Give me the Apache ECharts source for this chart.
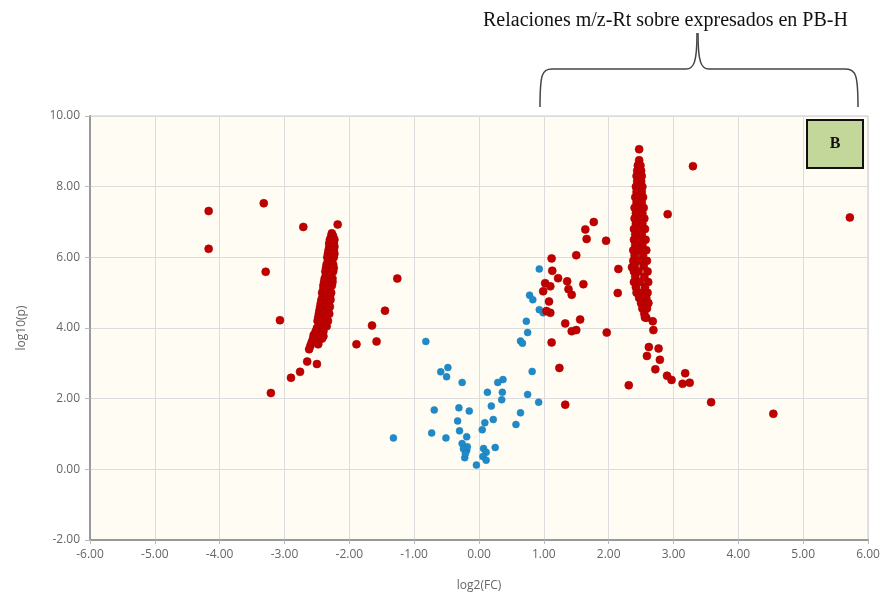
<!DOCTYPE html>
<html>
<head>
<meta charset="utf-8">
<script src="https://cdn.jsdelivr.net/npm/echarts@6/dist/echarts.min.js"></script>
<style>
html,body{margin:0;padding:0;background:#ffffff;}
#chart{width:887px;height:597px;}
</style>
</head>
<body>
<div id="chart"></div>
<script>
// x tick values (log2 FC) and y tick values (log10 p)
const xTicks = [-6,-5,-4,-3,-2,-1,0,1,2,3,4,5,6];
const yTicks = [-2,0,2,4,6,8,10];

// Significant features (red): isolated points on the left
const redLeft = [
  [-4.17,7.31],[-4.17,6.24],[-3.32,7.53],[-3.29,5.59],[-3.07,4.22],[-3.21,2.16],
  [-2.71,6.86],[-2.18,6.93],[-2.90,2.59],[-2.76,2.76],[-2.65,3.05],[-2.50,2.98],
  [-2.48,3.54],[-2.40,3.77],[-2.35,4.05],[-1.89,3.54],[-1.65,4.07],[-1.58,3.62],
  [-1.45,4.49],[-1.26,5.40]
];
// Dense left streak
const redLeftStreak = [
  [-2.27,6.68],[-2.28,6.60],[-2.25,6.60],[-2.30,6.50],[-2.26,6.50],[-2.23,6.50],
  [-2.31,6.40],[-2.27,6.40],[-2.24,6.40],[-2.31,6.30],[-2.26,6.30],[-2.23,6.30],
  [-2.32,6.20],[-2.28,6.20],[-2.24,6.20],[-2.33,6.10],[-2.27,6.10],[-2.23,6.10],
  [-2.34,6.00],[-2.29,6.00],[-2.24,6.00],[-2.33,5.90],[-2.27,5.90],
  [-2.35,5.80],[-2.30,5.80],[-2.25,5.80],[-2.36,5.70],[-2.28,5.70],[-2.24,5.70],
  [-2.37,5.60],[-2.31,5.60],[-2.25,5.60],[-2.36,5.50],[-2.29,5.50],
  [-2.38,5.40],[-2.32,5.40],[-2.26,5.40],[-2.39,5.30],[-2.30,5.30],[-2.26,5.30],
  [-2.40,5.20],[-2.34,5.20],[-2.27,5.20],[-2.40,5.10],[-2.31,5.10],
  [-2.42,5.00],[-2.35,5.00],[-2.28,5.00],[-2.41,4.90],[-2.30,4.90],
  [-2.43,4.80],[-2.36,4.80],[-2.29,4.80],[-2.44,4.70],[-2.32,4.70],
  [-2.45,4.60],[-2.38,4.60],[-2.30,4.60],[-2.46,4.50],[-2.33,4.50],
  [-2.47,4.40],[-2.40,4.40],[-2.31,4.40],[-2.48,4.30],[-2.36,4.30],
  [-2.49,4.20],[-2.42,4.20],[-2.33,4.20],[-2.46,4.10],[-2.37,4.10],
  [-2.50,4.00],[-2.42,4.00],[-2.52,3.90],[-2.40,3.90],[-2.55,3.80],[-2.45,3.80],
  [-2.56,3.70],[-2.42,3.70],[-2.58,3.60],[-2.48,3.60],[-2.60,3.50],[-2.62,3.40]
];
// Isolated red points on the right
const redRight = [
  [1.12,5.97],[1.50,6.06],[1.13,5.62],[1.22,5.41],[1.36,5.32],[1.02,5.27],
  [1.10,5.18],[0.99,5.04],[1.38,5.10],[1.43,4.94],[1.61,5.24],[1.08,4.75],
  [1.10,4.43],[1.04,4.48],[1.33,4.13],[1.56,4.24],[1.43,3.91],[1.50,3.94],
  [1.97,3.87],[1.12,3.59],[1.24,2.87],[1.33,1.83],[1.77,7.00],[1.64,6.79],
  [1.66,6.52],[1.96,6.47],[2.15,5.67],[2.14,4.99],[2.36,5.72],[3.30,8.58],
  [2.91,7.22],[2.61,4.71],[2.58,4.29],[2.68,4.19],[2.69,3.94],[2.62,3.46],
  [2.77,3.42],[2.59,3.21],[2.79,3.10],[2.72,2.83],[2.90,2.65],[2.97,2.53],
  [3.18,2.72],[3.14,2.42],[3.25,2.45],[2.31,2.38],[3.58,1.90],[4.54,1.57],
  [5.72,7.13],[2.47,9.06]
];
// Dense right streak
const redRightStreak = [
  [2.47,8.75],[2.45,8.60],[2.49,8.60],[2.44,8.45],[2.50,8.45],
  [2.43,8.30],[2.47,8.30],[2.51,8.30],[2.44,8.15],[2.50,8.15],
  [2.42,8.00],[2.47,8.00],[2.52,8.00],[2.43,7.85],[2.51,7.85],
  [2.41,7.70],[2.46,7.70],[2.53,7.70],[2.43,7.55],[2.51,7.55],
  [2.40,7.40],[2.46,7.40],[2.54,7.40],[2.42,7.25],[2.52,7.25],
  [2.40,7.10],[2.47,7.10],[2.55,7.10],[2.42,6.95],[2.52,6.95],
  [2.39,6.80],[2.46,6.80],[2.56,6.80],[2.41,6.65],[2.51,6.65],
  [2.39,6.50],[2.45,6.50],[2.57,6.50],[2.41,6.35],[2.52,6.35],
  [2.38,6.20],[2.46,6.20],[2.58,6.20],[2.40,6.05],[2.53,6.05],
  [2.38,5.90],[2.47,5.90],[2.59,5.90],[2.40,5.75],[2.54,5.75],
  [2.39,5.60],[2.46,5.60],[2.60,5.60],[2.41,5.45],[2.55,5.45],
  [2.39,5.30],[2.48,5.30],[2.61,5.30],[2.42,5.15],[2.56,5.15],
  [2.43,5.00],[2.50,5.00],[2.60,5.00],[2.47,4.85],[2.58,4.85],
  [2.50,4.70],[2.61,4.70],[2.52,4.55],[2.59,4.55],[2.55,4.40],[2.56,4.30]
];
// Non-significant features (blue)
const bluePoints = [
  [0.93,5.67],[0.78,4.93],[0.83,4.80],[0.93,4.52],[0.99,4.43],[0.73,4.19],
  [0.75,3.87],[0.64,3.63],[0.67,3.57],[0.82,2.77],[0.29,2.46],[0.37,2.54],
  [0.13,2.18],[0.36,2.18],[0.35,1.97],[0.75,2.12],[0.92,1.90],[0.64,1.60],
  [0.57,1.27],[0.19,1.79],[0.22,1.41],[0.09,1.32],[0.05,1.12],[0.25,0.62],
  [0.07,0.59],[0.11,0.48],[0.06,0.36],[0.11,0.26],[-0.04,0.12],[-0.22,0.33],
  [-0.19,0.54],[-0.18,0.64],[-0.26,0.73],[-0.19,0.92],[-0.30,1.09],[-0.33,1.37],
  [-0.15,1.65],[-0.31,1.74],[-0.26,2.46],[-0.48,2.88],[-0.59,2.76],[-0.50,2.62],
  [-0.69,1.68],[-0.73,1.03],[-0.51,0.89],[-1.32,0.89],[-0.82,3.62],
  [-0.24,0.58],[-0.21,0.45]
];

const annotationText = 'Relaciones m/z-Rt sobre expresados en PB-H';
const panelLabel = 'B';

const redAll = redLeft.concat(redLeftStreak, redRight, redRightStreak);

const chart = echarts.init(document.getElementById('chart'), null, {renderer:'canvas'});
const axisFont = '"Open Sans", "DejaVu Sans", sans-serif';
const axisLabelStyle = {color:'#666', fontSize:12, fontFamily:axisFont};
const redStyle = {color:'#c00000', borderColor:'#a80000', borderWidth:0.6, opacity:1};
const blueStyle = {color:'#1f8ac8', borderColor:'#1c7db8', borderWidth:0.5, opacity:1};
const braceStyle = {stroke:'#444', lineWidth:1.5, fill:null};

chart.setOption({
  animation:false,
  backgroundColor:'#ffffff',
  grid:{left:90, right:19, top:116, bottom:54, show:true, backgroundColor:'#fffdf3', borderColor:'#c8c8c8', borderWidth:1},
  xAxis:{
    type:'value', min:xTicks[0], max:xTicks[xTicks.length-1], interval:1,
    name:'log2(FC)', nameLocation:'middle', nameGap:40,
    nameTextStyle:{color:'#666', fontSize:12, fontFamily:axisFont},
    axisLine:{show:true, onZero:false, lineStyle:{color:'#999', width:2}},
    axisTick:{show:true, length:4, lineStyle:{color:'#bbb'}},
    axisLabel:Object.assign({margin:9, formatter:v=>v.toFixed(2)}, axisLabelStyle),
    splitLine:{show:true, lineStyle:{color:'#dcdcdc', width:1}}
  },
  yAxis:{
    type:'value', min:yTicks[0], max:yTicks[yTicks.length-1], interval:2,
    name:'log10(p)', nameLocation:'middle', nameGap:62, nameRotate:90,
    nameTextStyle:{color:'#666', fontSize:12, fontFamily:axisFont},
    axisLine:{show:true, onZero:false, lineStyle:{color:'#999', width:2}},
    axisTick:{show:true, length:5, lineStyle:{color:'#bbb'}},
    axisLabel:Object.assign({margin:10, formatter:v=>v.toFixed(2)}, axisLabelStyle),
    splitLine:{show:true, lineStyle:{color:'#dcdcdc', width:1}}
  },
  series:[
    {type:'scatter', data:bluePoints, symbolSize:7, itemStyle:blueStyle, z:2},
    {type:'scatter', data:redAll, symbolSize:8, itemStyle:redStyle, z:3}
  ],
  graphic:[
    {type:'text', x:483, y:31, style:{text:annotationText, fill:'#111', font:'20px "Liberation Serif", "Times New Roman", serif', textVerticalAlign:'bottom'}},
    {type:'bezierCurve', shape:{x1:540, y1:107, cpx1:540, cpy1:74, cpx2:542, cpy2:69, x2:552, y2:69}, style:braceStyle},
    {type:'line', shape:{x1:552, y1:69, x2:686, y2:69}, style:braceStyle},
    {type:'bezierCurve', shape:{x1:686, y1:69, cpx1:694, cpy1:69, cpx2:697, cpy2:62, x2:697, y2:33}, style:braceStyle},
    {type:'bezierCurve', shape:{x1:709, y1:69, cpx1:701, cpy1:69, cpx2:698, cpy2:62, x2:698, y2:33}, style:braceStyle},
    {type:'line', shape:{x1:709, y1:69, x2:846, y2:69}, style:braceStyle},
    {type:'bezierCurve', shape:{x1:846, y1:69, cpx1:856, cpy1:69, cpx2:858, cpy2:76, x2:858, y2:107}, style:braceStyle},
    {type:'rect', shape:{x:807, y:120, width:56, height:48}, style:{fill:'#c4d79b', stroke:'#111', lineWidth:2}, z:10},
    {type:'text', x:835, y:144, style:{text:panelLabel, fill:'#111', font:'bold 16px "Liberation Serif", "Times New Roman", serif', textAlign:'center', textVerticalAlign:'middle'}, z:11}
  ]
});
</script>
</body>
</html>
